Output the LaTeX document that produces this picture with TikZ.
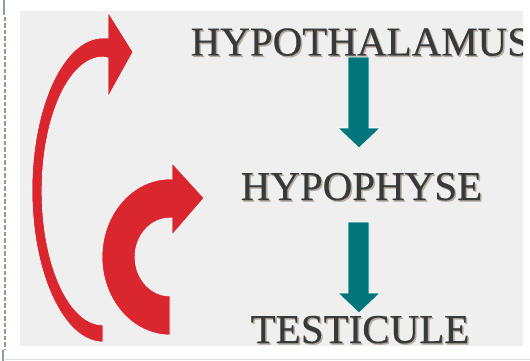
\documentclass[tikz,border=0pt]{standalone}
\usepackage{fontspec}
\setmainfont{Liberation Serif}[FakeBold=0.4]
\definecolor{bggray}{HTML}{EFEFEF}
\definecolor{txtgray}{HTML}{383A3A}
\definecolor{shadowgray}{HTML}{B4ABA2}
\definecolor{arrowred}{HTML}{D9262F}
\definecolor{arrowteal}{HTML}{00767A}
\definecolor{dashcol}{HTML}{A89488}
\definecolor{tickcol}{HTML}{8E9CA4}
\begin{document}
\begin{tikzpicture}[x=1pt,y=-1pt,
  label/.style={anchor=base west,inner sep=0pt,font=\fontsize{41}{41}\selectfont,text=txtgray},
  shadowlabel/.style={label,text=shadowgray},
  redarrow/.style={fill=arrowred,draw=white,line width=0.6pt},
  tealarrow/.style={fill=arrowteal,draw=white,line width=0.6pt}]
\useasboundingbox (0,0) rectangle (530,361);
% page decorations
\draw[tickcol,line width=1.5pt] (4,0) -- (4,15);
\draw[dashcol,line width=2pt,dash pattern=on 4.5pt off 2pt] (4.5,17) -- (4.5,350);
\draw[tickcol,line width=1.2pt] (3,350) -- (3,361);
\draw[black!12,line width=0.8pt] (5,359) -- (530,359);
% background panel
\fill[bggray] (20,11) rectangle (523,346);
% texts (clipped to panel)
\begin{scope}
\clip (20,11) rectangle (523,346);
\node[shadowlabel] (hyps) at (192,57) {HYPOTHALAMUS};
\node[label] (hyp) at (190.5,55.5) {HYPOTHALAMUS};
\node[shadowlabel] (phys) at (242,201.5) {HYPOPHYSE};
\node[label] (phy) at (240.5,200) {HYPOPHYSE};
\node[shadowlabel] (tess) at (252,344.5) {TESTICULE};
\node[label] (tes) at (250.5,343) {TESTICULE};
\end{scope}
% teal arrows
\fill[tealarrow] (348,57) -- (369,57) -- (369,128) -- (380,128) -- (359,148) -- (338,128) -- (348,128) -- cycle;
\fill[tealarrow] (348,222) -- (369,222) -- (369,293) -- (380,293) -- (359,313) -- (338,293) -- (348,293) -- cycle;
% thin red curved arrow
\filldraw[redarrow] (103,342) arc[start angle=90,end angle=270,x radius=71,y radius=152]
  -- (108,38) -- (108,12) -- (133,52) -- (108,97) -- (108,58) -- (103,57)
  arc[start angle=270,end angle=90,x radius=61,y radius=134] -- cycle;
% thick red curved arrow
\filldraw[redarrow] (170,335) arc[start angle=90,end angle=270,x radius=68,y radius=78]
  -- (172,179) -- (172,163) -- (204,198) -- (172,235) -- (172,218) -- (170,218)
  arc[start angle=270,end angle=90,x radius=35,y radius=39] -- cycle;
\end{tikzpicture}
\end{document}
